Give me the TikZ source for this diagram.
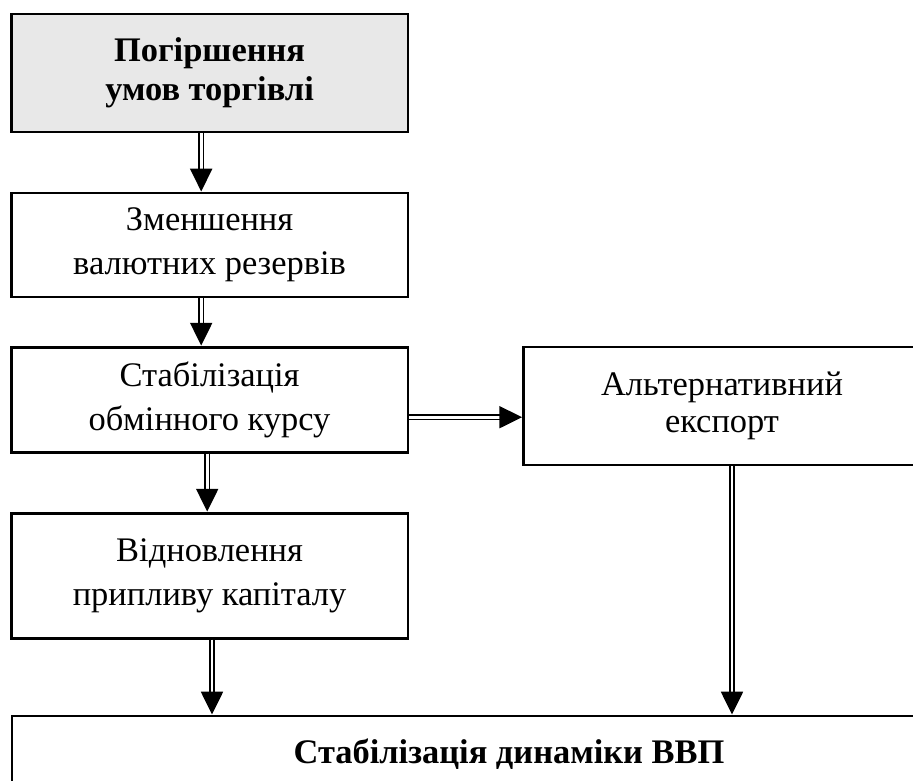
\documentclass[tikz,border=0pt]{standalone}
\usepackage{fontspec}
\setmainfont{Liberation Serif}
\usetikzlibrary{arrows.meta,positioning,calc}

\begin{document}
\begin{tikzpicture}[
    box/.style={draw, line width=2.1pt, minimum width=9.92cm, align=center, font=\fontsize{24.5}{31}\selectfont},
    dblarr/.style={double, double distance=2pt, line width=1.3pt, -{Triangle[length=0.57cm, width=0.55cm]}}
]
\useasboundingbox (0,0) rectangle (22.825,-19.5);

\node[box, fill=black!9, minimum height=2.95cm, font=\fontsize{24.5}{27.5}\selectfont\bfseries] (terms) at (5.24,-1.825) {Погіршення\\умов торгівлі};
\node[box, minimum height=2.6cm] (reserves) at (5.24,-6.125) {Зменшення\\валютних резервів};
\node[box, minimum height=2.625cm] (rate) at (5.24,-9.99) {Стабілізація\\обмінного курсу};
\node[box, minimum height=3.125cm] (inflow) at (5.24,-14.39) {Відновлення\\припливу капіталу};
\node[box, minimum height=2.95cm, font=\fontsize{24.5}{26}\selectfont] (altexport) at (18.05,-10.15) {Альтернативний\\експорт};
\node[box, minimum width=24.85cm, minimum height=1.9cm, font=\fontsize{24.5}{31}\selectfont\bfseries] (gdp) at (12.725,-18.85) {Стабілізація динаміки ВВП};

\draw[dblarr] ([xshift=-0.21cm]terms.south) -- ([xshift=-0.21cm]reserves.north);
\draw[dblarr] ([xshift=-0.21cm]reserves.south) -- ([xshift=-0.21cm]rate.north);
\draw[dblarr] ([xshift=-0.06cm]rate.south) -- ([xshift=-0.06cm]inflow.north);
\draw[dblarr] ([yshift=-0.44cm]rate.east) -- ([yshift=-0.44cm]rate.east -| altexport.west);
\draw[dblarr] ([xshift=0.06cm]inflow.south) -- ([xshift=0.06cm]inflow.south |- gdp.north);
\draw[dblarr] ([xshift=0.25cm]altexport.south) -- ([xshift=0.25cm]altexport.south |- gdp.north);
\end{tikzpicture}
\end{document}
